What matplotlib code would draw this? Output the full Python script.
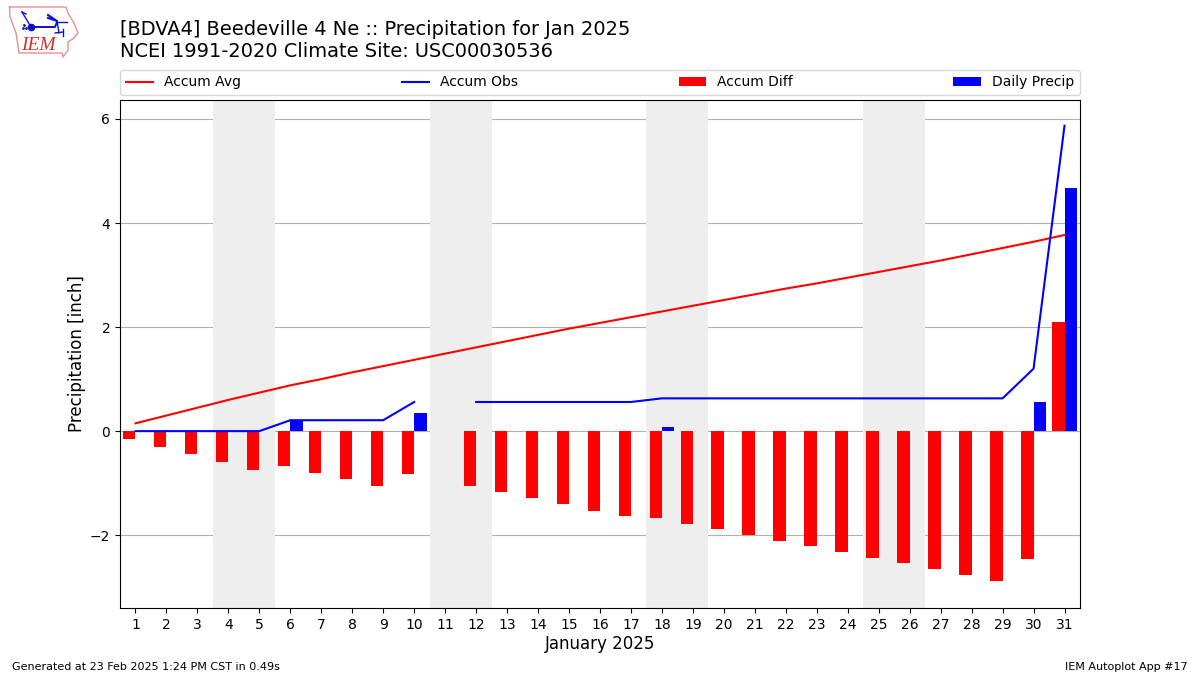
import matplotlib
matplotlib.use('Agg')
import matplotlib.pyplot as plt
import numpy as np

days = list(range(1, 32))
nan = float('nan')
accum_avg = [0.15, 0.30, 0.45, 0.60, 0.74, 0.88, 1.00, 1.13, 1.25, 1.37, 1.49,
             1.61, 1.73, 1.85, 1.97, 2.08, 2.19, 2.30, 2.41, 2.52, 2.63, 2.74,
             2.84, 2.95, 3.06, 3.17, 3.28, 3.40, 3.52, 3.64, 3.77]
accum_obs = [0, 0, 0, 0, 0, 0.21, 0.21, 0.21, 0.21, 0.56, nan,
             0.56, 0.56, 0.56, 0.56, 0.56, 0.56, 0.63, 0.63, 0.63, 0.63, 0.63,
             0.63, 0.63, 0.63, 0.63, 0.63, 0.63, 0.63, 1.20, 5.87]
accum_diff = [-0.15, -0.31, -0.44, -0.59, -0.75, -0.67, -0.81, -0.92, -1.06, -0.83, nan,
              -1.05, -1.17, -1.29, -1.41, -1.53, -1.63, -1.67, -1.79, -1.88, -2.00, -2.11,
              -2.20, -2.32, -2.43, -2.54, -2.65, -2.76, -2.88, -2.46, 2.09]
daily = [0, 0, 0, 0, 0, 0.21, 0, 0, 0, 0.35, nan,
         0, 0, 0, 0, 0, 0, 0.07, 0, 0, 0, 0,
         0, 0, 0, 0, 0, 0, 0, 0.56, 4.67]
weekends = [(3.5, 5.5), (10.5, 12.5), (17.5, 19.5), (24.5, 26.5)]

fig = plt.figure(figsize=(12, 6.75), dpi=100)
ax = fig.add_axes([120/1200, 1 - 608/675, 960/1200, 508/675])

for start, stop in weekends:
    ax.axvspan(start, stop, color='#eeeeee', lw=0, zorder=1)

ax.bar(days, accum_diff, width=-0.4, align='edge', color='r', label='Accum Diff', zorder=3)
ax.bar(days, daily, width=0.4, align='edge', color='b', label='Daily Precip', zorder=3)
ax.plot(days, accum_avg, color='r', lw=1.5, label='Accum Avg', zorder=4)
ax.plot(days, accum_obs, color='b', lw=1.5, label='Accum Obs', zorder=4)

ax.set_xlim(0.5, 31.5)
ax.set_ylim(-3.40, 6.365)
ax.set_xticks(days)
ax.grid(True, axis='y', color='#b0b0b0', lw=0.8, zorder=2)
ax.set_axisbelow(True)
ax.set_xlabel('January 2025', fontsize=12, labelpad=2.5)
ax.set_ylabel('Precipitation [inch]', fontsize=12)
ax.yaxis.set_label_coords(-34/960, 0.5)

handles, labels = ax.get_legend_handles_labels()
order = [labels.index(n) for n in ['Accum Avg', 'Accum Obs', 'Accum Diff', 'Daily Precip']]
ax.legend([handles[i] for i in order], [labels[i] for i in order], ncol=4, mode='expand',
          loc='lower left', bbox_to_anchor=(0, 1 + 5/508, 1, 25/508), borderaxespad=0, fontsize=10)

fig.text(120/1200, 1 - 20/675, '[BDVA4] Beedeville 4 Ne :: Precipitation for Jan 2025\nNCEI 1991-2020 Climate Site: USC00030536',
         fontsize=13.95, va='top', ha='left')
fig.text(12/1200, 1 - 667/675, 'Generated at 23 Feb 2025 1:24 PM CST in 0.49s', fontsize=8, va='center', ha='left')
fig.text(1188/1200, 1 - 667/675, 'IEM Autoplot App #17', fontsize=8, va='center', ha='right')

# logo, drawn by hand in pixel coords
logo = fig.add_axes([0, 1 - 60/675, 90/1200, 60/675])
logo.set_xlim(0, 90)
logo.set_ylim(60, 0)
logo.axis('off')
outline_x = [9.5, 66, 68, 74, 78, 74, 68, 68, 63, 62, 19, 16, 10, 9.5]
outline_y = [7, 7, 13, 23, 33, 38, 42, 50, 57, 53, 53, 33, 17, 7]
logo.plot(outline_x, outline_y, color='#e49090', lw=1)
logo.plot([31, 55, 57], [27, 27, 22], color='#1010d0', lw=1.4)
logo.plot([31], [27], 'o', color='#1010d0', ms=4.5)
logo.plot([22, 31], [12, 27], color='#1010d0', lw=1)
logo.plot([22, 26], [12, 14], color='#1010d0', lw=1)
logo.plot([48, 57, 48], [15, 21, 18], color='#1010d0', lw=1.5)
logo.plot([57, 67], [21.5, 21.5], color='#1010d0', lw=1)
logo.plot([57, 59], [21, 33], color='#1010d0', lw=1)
logo.plot([55, 63], [33, 32], color='#1010d0', lw=1)
logo.plot([63, 63], [29, 36], color='#1010d0', lw=1)
logo.plot([24, 23, 26], [25, 28, 28], '.', color='#1010d0', ms=2)
logo.text(21, 45, 'IEM', color='#d43030', fontsize=14, family='Liberation Serif', style='italic', va='center')

fig.savefig('out.png', dpi=100)
